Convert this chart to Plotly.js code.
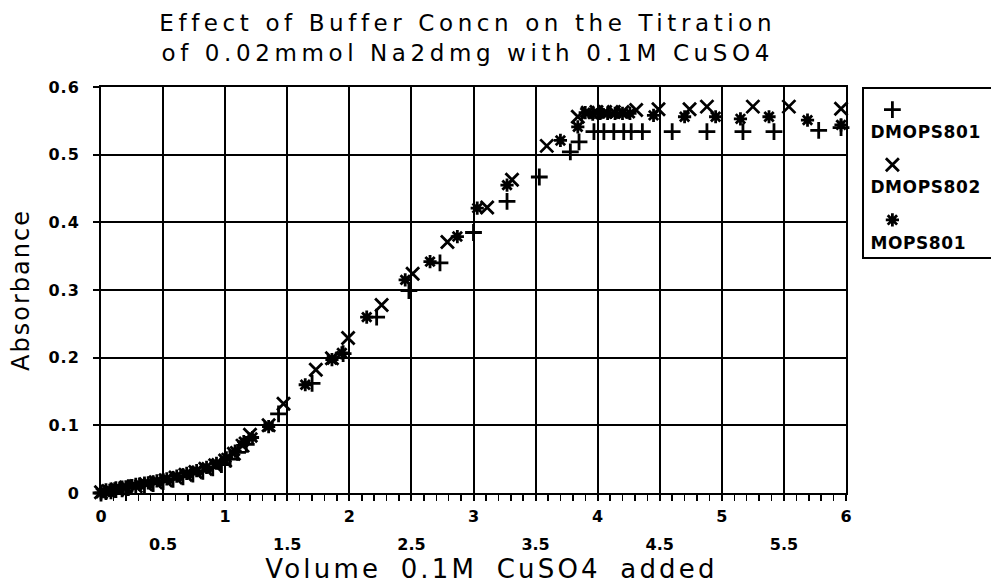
<!DOCTYPE html>
<html>
<head>
<meta charset="utf-8">
<script src="https://cdn.plot.ly/plotly-3.0.1.min.js"></script>
<style>
  html, body { margin: 0; padding: 0; background: #fff; }
  #chart { width: 991px; height: 584px; }
  .gtitle { letter-spacing: 4.6px; }
  .x2title { letter-spacing: 3.2px; word-spacing: 8px; transform: translateX(18px); }
  .ytitle { letter-spacing: 2px; }
  .ytick text { letter-spacing: 1px; }
  .legend .legendtext { transform: translate(-44px, 3px); letter-spacing: 0.6px; }
  .legend .legendpoints { transform: translate(3px, 3px); }
</style>
</head>
<body>
<div id="chart"></div>
<script>
// ---- Data ----
const seriesNames = ["DMOPS801", "DMOPS802", "MOPS801"];

const dmops801X = [0, 0.04, 0.08, 0.12, 0.17, 0.22, 0.28, 0.35, 0.42, 0.5, 0.58, 0.66, 0.74, 0.82, 0.9, 0.97, 1.04, 1.1, 1.17,
  1.43, 1.70, 1.95, 2.22, 2.48, 2.73, 3.00, 3.27, 3.53, 3.78, 3.85, 3.97, 4.05, 4.13, 4.21, 4.27, 4.36, 4.60, 4.88, 5.17, 5.42, 5.78, 5.96];
const dmops801Y = [0.000, 0.002, 0.003, 0.005, 0.006, 0.008, 0.010, 0.012, 0.014, 0.017, 0.020, 0.024, 0.028, 0.032, 0.037, 0.042, 0.050, 0.060, 0.072,
  0.117, 0.162, 0.206, 0.260, 0.299, 0.340, 0.385, 0.431, 0.467, 0.504, 0.519, 0.534, 0.534, 0.534, 0.534, 0.534, 0.534, 0.534, 0.534, 0.534, 0.534, 0.536, 0.540];

const dmops802X = [0, 0.06, 0.13, 0.2, 0.28, 0.36, 0.44, 0.52, 0.6, 0.68, 0.76, 0.84, 0.92, 1.0, 1.07, 1.14, 1.20,
  1.35, 1.47, 1.73, 1.86, 1.99, 2.26, 2.51, 2.79, 3.11, 3.31, 3.59, 3.84, 3.92, 3.99, 4.06, 4.13, 4.20, 4.31, 4.49, 4.74, 4.88, 5.25, 5.54, 5.96];
const dmops802Y = [0.001, 0.003, 0.005, 0.008, 0.010, 0.013, 0.016, 0.019, 0.023, 0.027, 0.031, 0.036, 0.041, 0.048, 0.058, 0.070, 0.086,
  0.100, 0.132, 0.182, 0.199, 0.229, 0.278, 0.324, 0.371, 0.422, 0.463, 0.513, 0.556, 0.562, 0.563, 0.563, 0.563, 0.563, 0.566, 0.567, 0.567, 0.571, 0.571, 0.571, 0.568];

const mops801X = [0, 0.03, 0.07, 0.11, 0.15, 0.2, 0.25, 0.31, 0.38, 0.45, 0.53, 0.61, 0.69, 0.77, 0.85, 0.93, 1.01, 1.08, 1.15, 1.22,
  1.35, 1.645, 1.86, 1.94, 2.14, 2.45, 2.65, 2.87, 3.03, 3.27, 3.70, 3.84, 3.90, 3.96, 4.02, 4.08, 4.14, 4.20, 4.26, 4.45, 4.70, 4.95, 5.15, 5.38, 5.69, 5.96];
const mops801Y = [0.000, 0.002, 0.004, 0.006, 0.007, 0.009, 0.011, 0.013, 0.015, 0.018, 0.021, 0.025, 0.029, 0.033, 0.038, 0.044, 0.052, 0.062, 0.076, 0.082,
  0.098, 0.160, 0.197, 0.207, 0.260, 0.315, 0.342, 0.379, 0.421, 0.455, 0.521, 0.541, 0.562, 0.560, 0.561, 0.561, 0.561, 0.561, 0.561, 0.558, 0.556, 0.556, 0.553, 0.556, 0.551, 0.544];

// ---- Axis ticks ----
const xMainTickVals = [0, 0.5, 1, 1.5, 2, 2.5, 3, 3.5, 4, 4.5, 5, 5.5, 6];
const xMainTickText = ["0", "", "1", "", "2", "", "3", "", "4", "", "5", "", "6"];
const xHalfTickVals = [0.5, 1.5, 2.5, 3.5, 4.5, 5.5];
const xHalfTickText = ["0.5", "1.5", "2.5", "3.5", "4.5", "5.5"];
const yTickVals = [0, 0.1, 0.2, 0.3, 0.4, 0.5, 0.6];
const yTickText = ["0", "0.1", "0.2", "0.3", "0.4", "0.5", "0.6"];

const titleText = "Effect of Buffer Concn on the Titration<br>of 0.02mmol Na2dmg with 0.1M CuSO4";
const xTitle = "Volume 0.1M CuSO4 added";
const yTitle = "Absorbance";

const FONT = "DejaVu Sans, Liberation Sans, sans-serif";

function mk(name, xs, ys, symbol, size, group, xaxisId) {
  return {
    type: "scatter", mode: "markers", name: "<br>" + name,
    x: xs, y: ys, cliponaxis: false, legendgroup: group,
    xaxis: xaxisId, yaxis: "y",
    marker: { symbol: symbol, size: size, color: "#000", line: { color: "#000", width: 2.8 } }
  };
}

const traces = [
  mk(seriesNames[0], dmops801X, dmops801Y, "cross-thin", 12, "a", "x"),
  mk(seriesNames[1], dmops802X, dmops802Y, "x-thin", 13, "b", "x"),
  mk(seriesNames[2], mops801X, mops801Y, "asterisk", 11, "c", "x2")
];

const layout = {
  width: 991, height: 584,
  paper_bgcolor: "#fff", plot_bgcolor: "#fff",
  margin: { l: 101, r: 145, t: 87, b: 91, pad: 0, autoexpand: false },
  font: { family: FONT, color: "#000" },
  title: {
    text: titleText, font: { family: FONT, size: 23, color: "#000" },
    x: 0.472, xref: "container", xanchor: "center",
    y: 0.947, yref: "container", yanchor: "top"
  },
  showlegend: true,
  legend: {
    x: 1.022, xanchor: "left", y: 1, yanchor: "top",
    bordercolor: "#000", borderwidth: 2, bgcolor: "#fff",
    font: { family: FONT, size: 17, color: "#000", weight: "bold" },
    valign: "top", tracegroupgap: 8, itemwidth: 40
  },
  xaxis: {
    range: [0, 6], autorange: false,
    tickmode: "array", tickvals: xMainTickVals, ticktext: xMainTickText,
    tickfont: { family: FONT, size: 16, weight: "bold" },
    ticks: "outside", ticklen: 6, tickwidth: 2, tickcolor: "#000",
    minor: { dtick: 0.1, ticks: "outside", ticklen: 6, tickwidth: 1.5, tickcolor: "#000", showgrid: false },
    showgrid: true, gridcolor: "#000", gridwidth: 2,
    showline: true, linecolor: "#000", linewidth: 2, mirror: true,
    zeroline: false, ticklabelstandoff: 2
  },
  xaxis2: {
    overlaying: "x", anchor: "y", side: "bottom",
    range: [0, 6], autorange: false,
    tickmode: "array", tickvals: xHalfTickVals, ticktext: xHalfTickText,
    tickfont: { family: FONT, size: 16, weight: "bold" },
    ticks: "", showgrid: false, showline: false, zeroline: false,
    ticklabelstandoff: 40,
    title: { text: xTitle, font: { family: FONT, size: 26, color: "#000" }, standoff: 2 }
  },
  yaxis: {
    range: [0, 0.6], autorange: false,
    tickmode: "array", tickvals: yTickVals, ticktext: yTickText,
    tickfont: { family: FONT, size: 16, weight: "bold" },
    ticks: "outside", ticklen: 6, tickwidth: 2, tickcolor: "#000",
    showgrid: true, gridcolor: "#000", gridwidth: 2,
    showline: true, linecolor: "#000", linewidth: 2, mirror: true,
    zeroline: false, ticklabelstandoff: 10,
    title: { text: yTitle, font: { family: FONT, size: 24, color: "#000" }, standoff: 12 }
  }
};

Plotly.newPlot("chart", traces, layout, { displayModeBar: false, staticPlot: true });
</script>
</body>
</html>
